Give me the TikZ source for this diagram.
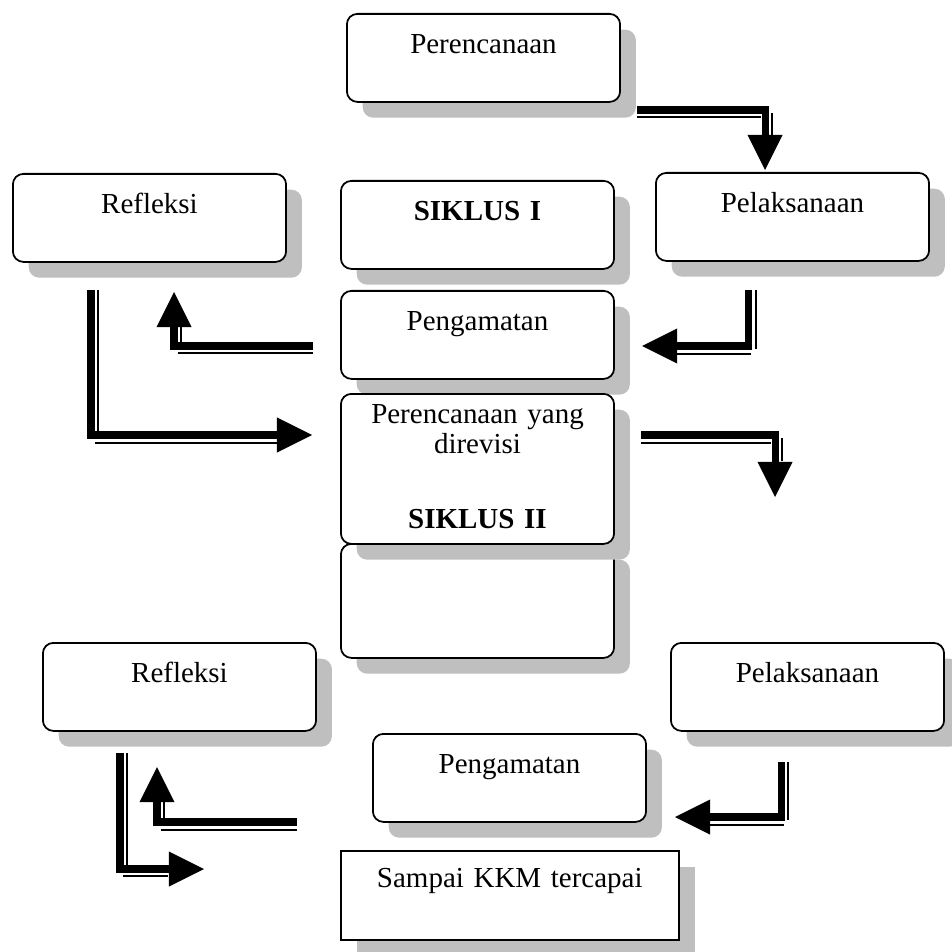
\documentclass[tikz,border=0pt]{standalone}
\usepackage{fontspec}
\setmainfont{Liberation Serif}
\usetikzlibrary{shadows,arrows.meta}

\begin{document}
\begin{tikzpicture}[x=0.02cm,y=-0.02cm,
  box/.style={draw,line width=1pt,rounded corners=6pt,fill=white,anchor=north west,
    inner sep=0pt,text width=155.5pt,align=center,text height=22.8pt,text depth=27.3pt,
    font=\fontsize{16.5}{17}\selectfont,
    drop shadow={shadow xshift=9pt,shadow yshift=-9pt,fill=black!25,opacity=1}},
  flow/.style={line width=4pt,-{Triangle[width=20pt,length=20pt,line width=0pt]}},
  twin/.style={line width=1pt}]

  \useasboundingbox (0,0) rectangle (951,952);

  % siklus I
  \node[box] (per1) at (346,13) {Perencanaan};
  \node[box] (ref1) at (12,173) {Refleksi};
  \node[box] (sik1) at (340,180) {\textbf{SIKLUS I}};
  \node[box] (pel1) at (655,172) {Pelaksanaan};
  \node[box] (pen1) at (340,290) {Pengamatan};

  % siklus II
  \node[box,text height=32pt,text depth=32.9pt] (kosong) at (340,543) {};
  \node[box,text height=17.1pt,text depth=68.3pt] (sik2) at (340,393)
    {Perencanaan yang\\direvisi\\[25.6pt]\textbf{SIKLUS II}};
  \node[box] (ref2) at (42,642) {Refleksi};
  \node[box] (pel2) at (670,642) {Pelaksanaan};
  \node[box] (pen2) at (372,733) {Pengamatan};
  \node[box,sharp corners,text width=192.3pt,text height=21pt,text depth=29.6pt]
    (kkm) at (340,850) {Sampai KKM tercapai};

  % arrows
  \coordinate (a1) at (637,110);  \coordinate (a1e) at (765,170);
  \coordinate (a2) at (748,290);  \coordinate (a2e) at (642,346);
  \coordinate (a3) at (313,346);  \coordinate (a3e) at (174,292);
  \coordinate (a4) at (91,290);   \coordinate (a4e) at (312,435);
  \coordinate (a5) at (641,435);  \coordinate (a5e) at (775,497);
  \coordinate (a6) at (781,762);  \coordinate (a6e) at (675,817);
  \coordinate (a7) at (297,822);  \coordinate (a7e) at (157,767);
  \coordinate (a8) at (120,753);  \coordinate (a8e) at (204,869);

  \draw[flow] (a1) -| (a1e);
  \draw[twin] (637,117) -- (761,117) (772,113) -- (772,136);
  \draw[flow] (a2) |- (a2e);
  \draw[twin] (756,290) -- (756,349) (677,354) -- (751,354);
  \draw[flow] (a3) -| (a3e);
  \draw[twin] (178,353) -- (313,353) (181,325) -- (181,343);
  \draw[flow] (a4) |- (a4e);
  \draw[twin] (98,290) -- (98,431) (95,443) -- (278,443);
  \draw[flow] (a5) -| (a5e);
  \draw[twin] (641,443) -- (771,443) (782,438) -- (782,461);
  \draw[flow] (a6) |- (a6e);
  \draw[twin] (788,762) -- (788,820) (709,825) -- (784,825);
  \draw[flow] (a7) -| (a7e);
  \draw[twin] (161,830) -- (297,830) (164,802) -- (164,819);
  \draw[flow] (a8) |- (a8e);
  \draw[twin] (127,753) -- (127,866) (123,876) -- (168,876);
\end{tikzpicture}
\end{document}
